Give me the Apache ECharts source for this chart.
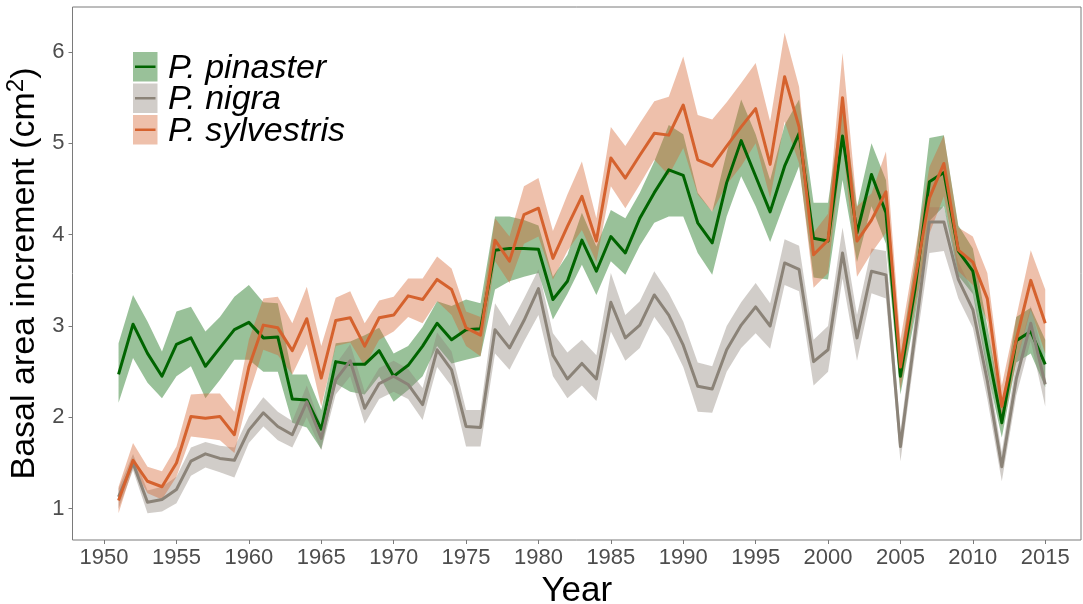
<!DOCTYPE html>
<html>
<head>
<meta charset="utf-8">
<script src="https://cdn.jsdelivr.net/npm/echarts@6/dist/echarts.min.js"></script>
<style>
  html, body { margin: 0; padding: 0; background: #ffffff; }
  #chart { width: 1083px; height: 604px; }
</style>
</head>
<body>
<div id="chart"></div>
<script>
// Annual basal area increment per species: mean with a confidence ribbon
const years = [
  1951, 1952, 1953, 1954, 1955, 1956, 1957, 1958, 1959, 1960,
  1961, 1962, 1963, 1964, 1965, 1966, 1967, 1968, 1969, 1970,
  1971, 1972, 1973, 1974, 1975, 1976, 1977, 1978, 1979, 1980,
  1981, 1982, 1983, 1984, 1985, 1986, 1987, 1988, 1989, 1990,
  1991, 1992, 1993, 1994, 1995, 1996, 1997, 1998, 1999, 2000,
  2001, 2002, 2003, 2004, 2005, 2006, 2007, 2008, 2009, 2010,
  2011, 2012, 2013, 2014, 2015
];

const speciesNames = ['P. pinaster', 'P. nigra', 'P. sylvestris'];

const pinasterMean = [
  2.47, 3.02, 2.70, 2.45, 2.80, 2.87, 2.56, 2.76, 2.96, 3.04,
  2.87, 2.88, 2.20, 2.19, 1.87, 2.61, 2.58, 2.58, 2.73, 2.45,
  2.57, 2.78, 3.03, 2.85, 2.96, 2.97, 3.83, 3.85, 3.85, 3.84,
  3.29, 3.49, 3.94, 3.60, 3.98, 3.80, 4.18, 4.46, 4.71, 4.65,
  4.13, 3.91, 4.57, 5.03, 4.64, 4.25, 4.75, 5.11, 3.96, 3.93,
  5.08, 4.02, 4.66, 4.24, 2.45, 3.40, 4.58, 4.68, 3.82, 3.60,
  2.75, 1.94, 2.84, 2.94, 2.58
];
const pinasterUpper = [
  2.81, 3.34, 3.05, 2.72, 3.16, 3.21, 2.94, 3.10, 3.32, 3.45,
  3.26, 3.25, 2.47, 2.47, 2.08, 2.81, 2.83, 2.90, 2.98, 2.70,
  2.78, 2.99, 3.27, 3.22, 3.29, 3.25, 4.20, 4.20, 4.16, 4.10,
  3.54, 3.78, 4.24, 3.87, 4.27, 4.18, 4.46, 4.80, 5.20, 5.10,
  4.46, 4.25, 4.90, 5.48, 5.10, 4.60, 5.20, 5.48, 4.35, 4.35,
  5.46, 4.30, 5.00, 4.60, 2.68, 3.70, 5.06, 5.09, 4.10, 3.85,
  3.00, 2.12, 3.10, 3.20, 2.85
];
const pinasterLower = [
  2.16, 2.65, 2.38, 2.21, 2.45, 2.56, 2.21, 2.41, 2.63, 2.63,
  2.50, 2.50, 1.94, 1.89, 1.65, 2.37, 2.28, 2.25, 2.45, 2.17,
  2.30, 2.45, 2.78, 2.59, 2.63, 2.67, 3.40, 3.49, 3.54, 3.58,
  3.07, 3.35, 3.67, 3.34, 3.71, 3.56, 3.88, 4.13, 4.20, 4.20,
  3.80, 3.56, 4.20, 4.64, 4.31, 3.92, 4.35, 4.75, 3.53, 3.51,
  4.60, 3.70, 4.31, 3.90, 2.25, 3.10, 4.15, 4.31, 3.55, 3.35,
  2.50, 1.78, 2.60, 2.70, 2.33
];

const nigraMean = [
  1.13, 1.50, 1.07, 1.10, 1.21, 1.52, 1.60, 1.55, 1.53, 1.86,
  2.05, 1.90, 1.81, 2.17, 1.77, 2.41, 2.62, 2.10, 2.37, 2.45,
  2.36, 2.14, 2.74, 2.52, 1.90, 1.89, 2.96, 2.76, 3.06, 3.41,
  2.68, 2.42, 2.59, 2.42, 3.26, 2.87, 3.01, 3.34, 3.12, 2.79,
  2.34, 2.31, 2.74, 3.01, 3.21, 3.00, 3.69, 3.62, 2.61, 2.74,
  3.80, 2.87, 3.60, 3.56, 1.68, 2.90, 4.14, 4.14, 3.51, 3.18,
  2.40, 1.46, 2.42, 3.03, 2.36
];
const nigraUpper = [
  1.22, 1.60, 1.20, 1.24, 1.35, 1.67, 1.73, 1.69, 1.67, 2.01,
  2.22, 2.06, 1.96, 2.35, 1.90, 2.58, 2.80, 2.28, 2.54, 2.62,
  2.53, 2.32, 2.93, 2.72, 2.08, 2.08, 3.25, 3.00, 3.30, 3.62,
  2.92, 2.71, 2.85, 2.68, 3.58, 3.12, 3.27, 3.60, 3.36, 3.05,
  2.60, 2.56, 3.00, 3.26, 3.47, 3.25, 3.95, 3.88, 2.85, 3.00,
  4.08, 3.12, 3.85, 3.82, 1.85, 3.10, 4.30, 4.30, 3.70, 3.38,
  2.58, 1.62, 2.60, 3.22, 2.58
];
const nigraLower = [
  1.00, 1.42, 0.95, 0.97, 1.06, 1.36, 1.45, 1.40, 1.34, 1.72,
  1.90, 1.75, 1.67, 2.00, 1.64, 2.25, 2.45, 1.93, 2.20, 2.28,
  2.20, 1.97, 2.55, 2.34, 1.68, 1.68, 2.70, 2.52, 2.83, 3.12,
  2.45, 2.21, 2.35, 2.18, 2.94, 2.62, 2.76, 3.10, 2.88, 2.55,
  2.06, 2.05, 2.50, 2.76, 2.92, 2.75, 3.45, 3.38, 2.35, 2.50,
  3.52, 2.62, 3.36, 3.30, 1.52, 2.70, 3.80, 3.82, 3.30, 2.98,
  2.20, 1.30, 2.24, 2.84, 2.12
];

const sylvestrisMean = [
  1.09, 1.53, 1.30, 1.24, 1.50, 2.01, 1.99, 2.01, 1.81, 2.55,
  3.01, 2.98, 2.73, 3.08, 2.43, 3.06, 3.09, 2.78, 3.09, 3.12,
  3.33, 3.29, 3.51, 3.40, 2.98, 2.90, 3.94, 3.71, 4.22, 4.29,
  3.74, 4.09, 4.42, 3.93, 4.84, 4.62, 4.87, 5.11, 5.09, 5.42,
  4.82, 4.75, 4.97, 5.18, 5.38, 4.77, 5.73, 5.18, 3.78, 3.94,
  5.50, 3.93, 4.16, 4.47, 2.55, 3.50, 4.40, 4.78, 3.83, 3.70,
  3.30, 2.12, 2.85, 3.50, 3.03
];
const sylvestrisUpper = [
  1.24, 1.72, 1.46, 1.41, 1.68, 2.25, 2.26, 2.26, 2.06, 2.85,
  3.30, 3.32, 3.03, 3.43, 2.78, 3.31, 3.38, 3.03, 3.28, 3.32,
  3.52, 3.52, 3.76, 3.63, 3.16, 3.10, 4.18, 3.98, 4.53, 4.62,
  4.04, 4.44, 4.80, 4.18, 5.18, 4.97, 5.22, 5.46, 5.51, 5.95,
  5.31, 5.26, 5.45, 5.66, 5.88, 5.24, 6.21, 5.62, 4.02, 4.23,
  5.99, 4.31, 4.45, 4.91, 2.85, 3.80, 4.74, 5.09, 4.08, 3.98,
  3.58, 2.35, 3.10, 3.83, 3.40
];
const sylvestrisLower = [
  0.95, 1.45, 1.17, 1.10, 1.35, 1.79, 1.77, 1.75, 1.61, 2.25,
  2.74, 2.68, 2.47, 2.80, 2.12, 2.78, 2.82, 2.56, 2.85, 2.94,
  3.10, 3.03, 3.27, 3.12, 2.78, 2.67, 3.71, 3.47, 3.90, 3.98,
  3.51, 3.82, 4.05, 3.70, 4.53, 4.29, 4.55, 4.82, 4.65, 4.95,
  4.44, 4.25, 4.55, 4.75, 5.00, 4.40, 5.24, 4.78, 3.42, 3.58,
  5.00, 3.54, 3.80, 4.02, 2.30, 3.20, 4.01, 4.42, 3.60, 3.45,
  3.05, 1.90, 2.60, 3.18, 2.70
];

const yearTicks = [1950, 1955, 1960, 1965, 1970, 1975, 1980, 1985, 1990, 1995, 2000, 2005, 2010, 2015];
const valueTicks = [1, 2, 3, 4, 5, 6];

// Styling
const FONT = "'Liberation Sans', Arial, Helvetica, sans-serif";
const lineColors = ['#006400', '#8B8378', '#D5622E'];
const ribbonColors = ['rgba(0,100,0,0.4)', 'rgba(139,131,120,0.4)', 'rgba(213,98,46,0.4)'];
const frameColor = '#7a7a7a';

const groups = [
  { mean: pinasterMean, lower: pinasterLower, upper: pinasterUpper },
  { mean: nigraMean, lower: nigraLower, upper: nigraUpper },
  { mean: sylvestrisMean, lower: sylvestrisLower, upper: sylvestrisUpper }
];

function ribbonSeries(g, idx) {
  return {
    type: 'custom',
    name: speciesNames[idx] + ' band',
    silent: true,
    z: 1,
    data: years.map((y, i) => [y, g.lower[i], g.upper[i]]),
    encode: { x: 0, y: [1, 2] },
    renderItem: function (params, api) {
      if (params.dataIndexInside !== 0) return null;
      const n = params.dataInsideLength;
      const top = [], bottom = [];
      for (let i = 0; i < n; i++) {
        const x = api.value(0, i);
        top.push(api.coord([x, api.value(2, i)]));
        bottom.push(api.coord([x, api.value(1, i)]));
      }
      return {
        type: 'polygon',
        shape: { points: top.concat(bottom.reverse()) },
        style: { fill: ribbonColors[idx], stroke: null }
      };
    }
  };
}

function lineSeries(g, idx) {
  return {
    type: 'line',
    name: speciesNames[idx],
    z: 3,
    data: years.map((y, i) => [y, g.mean[i]]),
    symbol: 'none',
    lineStyle: { color: lineColors[idx], width: 3, join: 'round' },
    itemStyle: { color: lineColors[idx] }
  };
}

// Legend drawn as keys (ribbon swatch + line) with italic species names
const legendLeft = 133, legendTop = 52, keyW = 24.5, keyH = 29.5, rowStep = 31.5;
const legendChildren = [];
speciesNames.forEach((name, i) => {
  const y0 = legendTop + i * rowStep;
  legendChildren.push({
    type: 'rect',
    shape: { x: legendLeft, y: y0, width: keyW, height: keyH },
    style: { fill: ribbonColors[i] }
  });
  legendChildren.push({
    type: 'line',
    shape: { x1: legendLeft + 2, y1: y0 + keyH / 2, x2: legendLeft + keyW - 2, y2: y0 + keyH / 2 },
    style: { stroke: lineColors[i], lineWidth: 2.5 }
  });
  legendChildren.push({
    type: 'text',
    x: legendLeft + 35,
    y: y0 + keyH / 2 + 1.5,
    style: {
      text: name,
      font: 'italic 34px ' + FONT,
      fill: '#000000',
      verticalAlign: 'middle'
    }
  });
});

const chart = echarts.init(document.getElementById('chart'), null, { renderer: 'canvas' });
chart.setOption({
  animation: false,
  backgroundColor: '#ffffff',
  grid: {
    left: 72.5, right: 2, top: 7, bottom: 64,
    outerBoundsMode: 'none',
    containLabel: false,
    show: true, borderColor: frameColor, borderWidth: 1, backgroundColor: 'transparent'
  },
  xAxis: {
    type: 'value',
    min: 1947.82,
    max: 2017.47,
    name: 'Year',
    nameLocation: 'middle',
    nameGap: 27,
    nameTextStyle: { fontFamily: FONT, fontSize: 35, color: '#000000', verticalAlign: 'top' },
    splitLine: { show: false },
    axisLine: { show: false },
    axisTick: { show: true, length: 4, lineStyle: { color: frameColor, width: 1 }, customValues: yearTicks },
    axisLabel: {
      customValues: yearTicks,
      margin: 7,
      fontFamily: FONT, fontSize: 22, color: '#4d4d4d',
      formatter: v => String(v)
    }
  },
  yAxis: {
    type: 'value',
    min: 0.657,
    max: 6.493,
    name: '{t|Basal area increment (cm}{s|2}{t|)}',
    nameLocation: 'middle',
    nameRotate: 90,
    nameGap: 25,
    nameTextStyle: {
      fontFamily: FONT, fontSize: 34, color: '#000000',
      rich: {
        t: { fontFamily: FONT, fontSize: 34, color: '#000000', lineHeight: 40 },
        s: { fontFamily: FONT, fontSize: 24, color: '#000000', lineHeight: 26, verticalAlign: 'top' }
      }
    },
    splitLine: { show: false },
    axisLine: { show: false },
    axisTick: { show: true, length: 4, lineStyle: { color: frameColor, width: 1 }, customValues: valueTicks },
    axisLabel: {
      customValues: valueTicks,
      margin: 8,
      fontFamily: FONT, fontSize: 22, color: '#4d4d4d',
      formatter: v => String(v)
    }
  },
  series: groups.map(ribbonSeries).concat(groups.map(lineSeries)),
  graphic: [{ type: 'group', z: 100, children: legendChildren }]
});
</script>
</body>
</html>
